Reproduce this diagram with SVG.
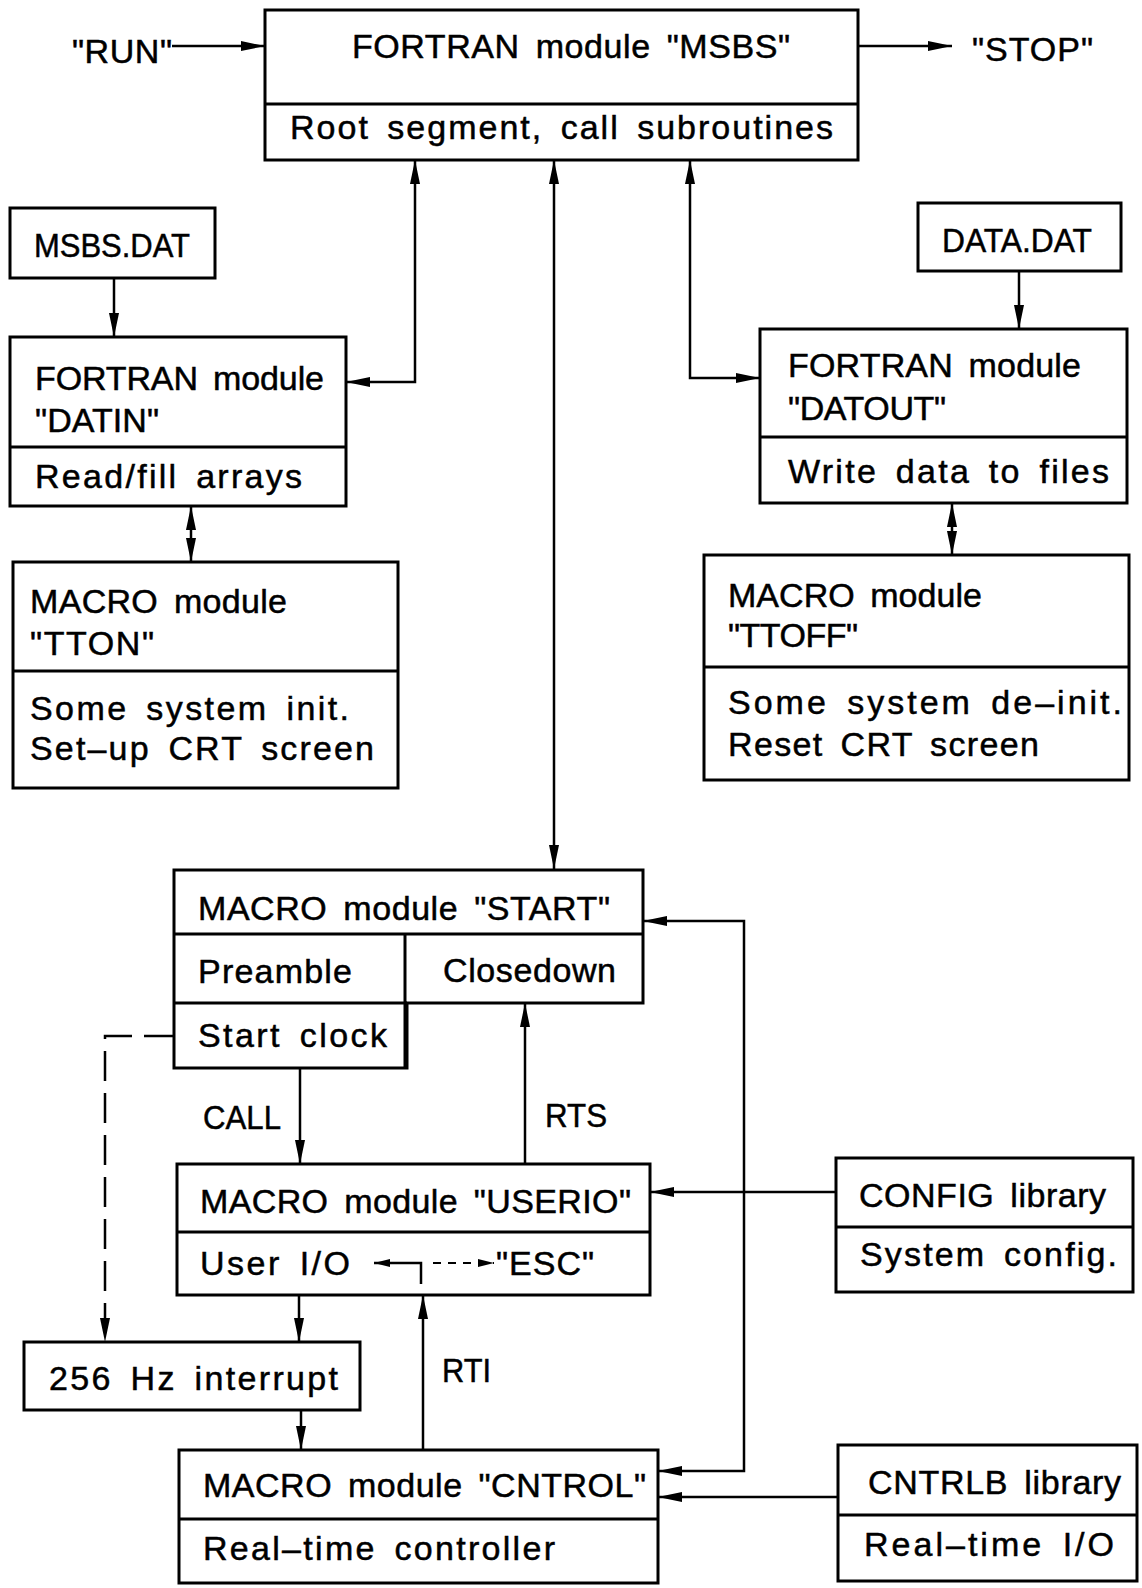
<svg xmlns="http://www.w3.org/2000/svg" width="1142" height="1588" viewBox="0 0 1142 1588">
<style>
  .box { fill: #fff; stroke: #000; stroke-width: 3; }
  .div { fill: none; stroke: #000; stroke-width: 3; }
  .c { fill: none; stroke: #000; stroke-width: 2.5; }
  .d { fill: none; stroke: #000; stroke-width: 2.5; stroke-dasharray: 30 12; }
  .ds { fill: none; stroke: #000; stroke-width: 2; stroke-dasharray: 8 7; }
  text { font-family: "Liberation Sans", Arial, sans-serif; font-size: 34px; fill: #000; stroke: #000; stroke-width: 0.5; word-spacing: 6px; }
</style>
<defs>
  <marker id="ah" viewBox="0 0 24 10" refX="24" refY="5" markerWidth="24" markerHeight="10" markerUnits="userSpaceOnUse" orient="auto-start-reverse">
    <path d="M0,0 L24,5 L0,10 z" fill="#000"/>
  </marker>
  <marker id="as" viewBox="0 0 16 8" refX="16" refY="4" markerWidth="16" markerHeight="8" markerUnits="userSpaceOnUse" orient="auto-start-reverse">
    <path d="M0,0 L16,4 L0,8 z" fill="#000"/>
  </marker>
</defs>
<rect width="1142" height="1588" fill="#fff"/>

<g id="run"><text x="72" y="63" textLength="100" lengthAdjust="spacing">"RUN"</text></g>
<g id="stop"><text x="972" y="61" textLength="121" lengthAdjust="spacing">"STOP"</text></g>

<g id="msbs">
  <rect class="box" x="265" y="10" width="593" height="150"/>
  <line class="div" x1="265" y1="104" x2="858" y2="104"/>
  <text x="352" y="58" textLength="438" lengthAdjust="spacing">FORTRAN module "MSBS"</text>
  <text x="290" y="139" textLength="543" lengthAdjust="spacing">Root segment, call subroutines</text>
</g>

<g id="msbsdat">
  <rect class="box" x="10" y="208" width="205" height="70"/>
  <text x="34" y="257" textLength="156" lengthAdjust="spacingAndGlyphs">MSBS.DAT</text>
</g>

<g id="datin">
  <rect class="box" x="10" y="337" width="336" height="169"/>
  <line class="div" x1="10" y1="447" x2="346" y2="447"/>
  <text x="35" y="390" textLength="289" lengthAdjust="spacing">FORTRAN module</text>
  <text x="35" y="432" textLength="124" lengthAdjust="spacing">"DATIN"</text>
  <text x="35" y="488" textLength="267" lengthAdjust="spacing">Read/fill arrays</text>
</g>

<g id="tton">
  <rect class="box" x="13" y="562" width="385" height="226"/>
  <line class="div" x1="13" y1="671" x2="398" y2="671"/>
  <text x="30" y="613" textLength="257" lengthAdjust="spacing">MACRO module</text>
  <text x="30" y="655" textLength="124" lengthAdjust="spacing">"TTON"</text>
  <text x="30" y="720" textLength="319" lengthAdjust="spacing">Some system init.</text>
  <text x="30" y="760" textLength="344" lengthAdjust="spacing">Set–up CRT screen</text>
</g>

<g id="datadat">
  <rect class="box" x="918" y="203" width="203" height="68"/>
  <text x="942" y="252" textLength="150" lengthAdjust="spacingAndGlyphs">DATA.DAT</text>
</g>

<g id="datout">
  <rect class="box" x="760" y="329" width="367" height="174"/>
  <line class="div" x1="760" y1="437" x2="1127" y2="437"/>
  <text x="788" y="377" textLength="293" lengthAdjust="spacing">FORTRAN module</text>
  <text x="788" y="420" textLength="158" lengthAdjust="spacing">"DATOUT"</text>
  <text x="788" y="483" textLength="321" lengthAdjust="spacing">Write data to files</text>
</g>

<g id="ttoff">
  <rect class="box" x="704" y="555" width="425" height="225"/>
  <line class="div" x1="704" y1="667" x2="1129" y2="667"/>
  <text x="728" y="607" textLength="254" lengthAdjust="spacing">MACRO module</text>
  <text x="728" y="647" textLength="130" lengthAdjust="spacing">"TTOFF"</text>
  <text x="728" y="714" textLength="394" lengthAdjust="spacing">Some system de–init.</text>
  <text x="728" y="756" textLength="311" lengthAdjust="spacing">Reset CRT screen</text>
</g>

<g id="start">
  <path class="box" d="M174,870 H643 V1003 H407 V1068 H174 Z"/>
  <line class="div" x1="174" y1="934" x2="643" y2="934"/>
  <line class="div" x1="405" y1="934" x2="405" y2="1068"/>
  <line class="div" x1="174" y1="1003" x2="407" y2="1003"/>
  <text x="198" y="920" textLength="412" lengthAdjust="spacing">MACRO module "START"</text>
  <text x="198" y="983" textLength="154" lengthAdjust="spacing">Preamble</text>
  <text x="443" y="982" textLength="173" lengthAdjust="spacing">Closedown</text>
  <text x="198" y="1047" textLength="189" lengthAdjust="spacing">Start clock</text>
</g>

<g id="call-label"><text x="203" y="1129" textLength="78" lengthAdjust="spacingAndGlyphs">CALL</text></g>
<g id="rts-label"><text x="545" y="1127" textLength="62" lengthAdjust="spacingAndGlyphs">RTS</text></g>

<g id="userio">
  <rect class="box" x="177" y="1164" width="473" height="131"/>
  <line class="div" x1="177" y1="1232" x2="650" y2="1232"/>
  <text x="200" y="1213" textLength="431" lengthAdjust="spacing">MACRO module "USERIO"</text>
  <text x="200" y="1275" textLength="150" lengthAdjust="spacing">User I/O</text>
  <text x="496" y="1275" textLength="98" lengthAdjust="spacing">"ESC"</text>
</g>

<g id="hz256">
  <rect class="box" x="24" y="1342" width="336" height="68"/>
  <text x="49" y="1390" textLength="289" lengthAdjust="spacing">256 Hz interrupt</text>
</g>

<g id="rti-label"><text x="442" y="1382" textLength="49" lengthAdjust="spacingAndGlyphs">RTI</text></g>

<g id="cntrol">
  <rect class="box" x="179" y="1450" width="479" height="133"/>
  <line class="div" x1="179" y1="1519" x2="658" y2="1519"/>
  <text x="203" y="1497" textLength="443" lengthAdjust="spacing">MACRO module "CNTROL"</text>
  <text x="203" y="1560" textLength="352" lengthAdjust="spacing">Real–time controller</text>
</g>

<g id="config">
  <rect class="box" x="836" y="1158" width="297" height="134"/>
  <line class="div" x1="836" y1="1227" x2="1133" y2="1227"/>
  <text x="859" y="1207" textLength="247" lengthAdjust="spacing">CONFIG library</text>
  <text x="860" y="1266" textLength="257" lengthAdjust="spacing">System config.</text>
</g>

<g id="cntrlb">
  <rect class="box" x="838" y="1445" width="299" height="136"/>
  <line class="div" x1="838" y1="1515" x2="1137" y2="1515"/>
  <text x="868" y="1494" textLength="253" lengthAdjust="spacing">CNTRLB library</text>
  <text x="864" y="1556" textLength="250" lengthAdjust="spacing">Real–time I/O</text>
</g>

<g id="connectors">
  <path class="c" d="M172,46 H265" marker-end="url(#ah)"/>
  <path class="c" d="M858,46 H952" marker-end="url(#ah)"/>
  <path class="c" d="M415,160 V382 H346" marker-start="url(#ah)" marker-end="url(#ah)"/>
  <path class="c" d="M554,160 V869" marker-start="url(#ah)" marker-end="url(#ah)"/>
  <path class="c" d="M690,160 V378 H760" marker-start="url(#ah)" marker-end="url(#ah)"/>
  <path class="c" d="M114,278 V337" marker-end="url(#ah)"/>
  <path class="c" d="M1019,271 V329" marker-end="url(#ah)"/>
  <path class="c" d="M191,506 V562" marker-start="url(#ah)" marker-end="url(#ah)"/>
  <path class="c" d="M952,503 V555" marker-start="url(#ah)" marker-end="url(#ah)"/>
  <path class="c" d="M658,1471 H744 V921 H643" marker-start="url(#ah)" marker-end="url(#ah)"/>
  <path class="c" d="M836,1192 H650" marker-end="url(#ah)"/>
  <path class="c" d="M838,1497 H658" marker-end="url(#ah)"/>
  <path class="c" d="M300,1068 V1164" marker-end="url(#ah)"/>
  <path class="c" d="M525,1164 V1003" marker-end="url(#ah)"/>
  <path class="c" d="M299,1295 V1342" marker-end="url(#ah)"/>
  <path class="c" d="M301,1410 V1450" marker-end="url(#ah)"/>
  <path class="c" d="M423,1450 V1295" marker-end="url(#ah)"/>
  <path class="d" d="M174,1036 H105 V1342" marker-end="url(#ah)"/>
  <path class="c" d="M421,1284 V1263 H374" marker-end="url(#as)"/>
  <path class="ds" d="M433,1263 H494" marker-end="url(#as)"/>
</g>
</svg>
